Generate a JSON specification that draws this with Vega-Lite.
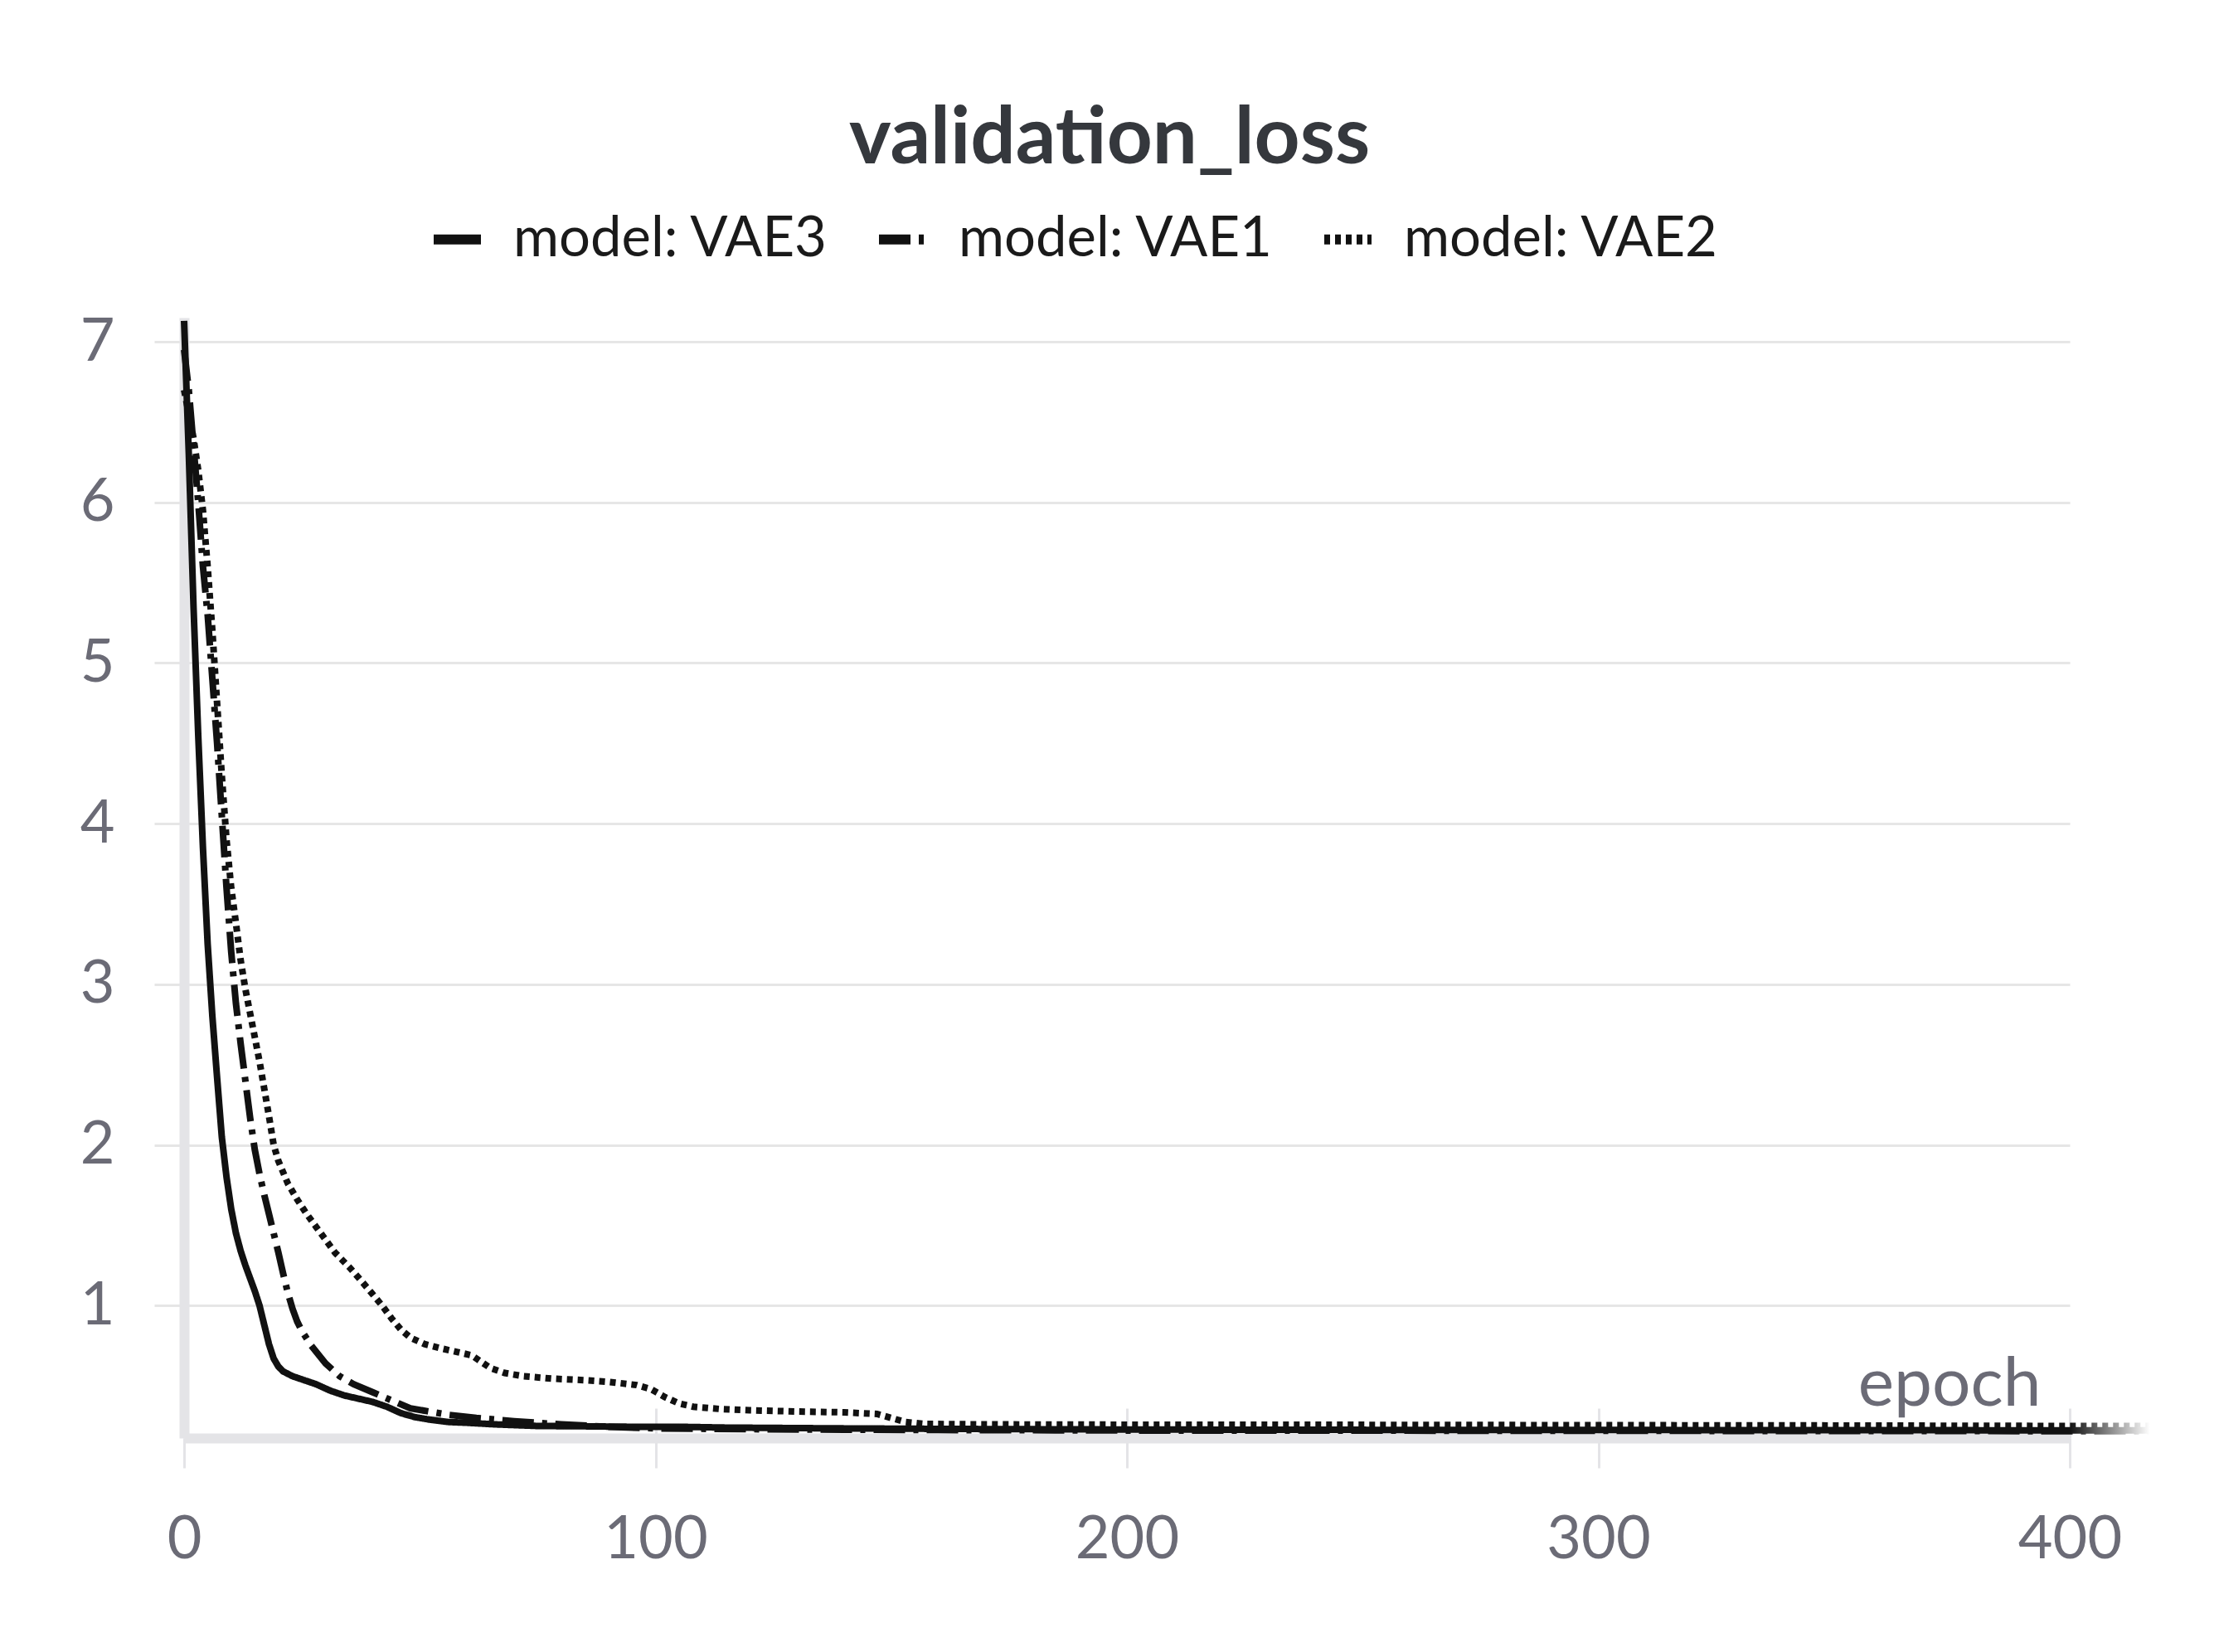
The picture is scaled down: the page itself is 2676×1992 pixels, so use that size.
{
  "$schema": "https://vega.github.io/schema/vega-lite/v6.json",
  "width": 2274,
  "height": 1351,
  "autosize": {"type": "none"},
  "padding": {"left": 222, "top": 383, "right": 180, "bottom": 258},
  "background": "#ffffff",
  "title": {
    "text": "validation_loss",
    "fontSize": 96,
    "fontWeight": "bold",
    "font": "Lato",
    "color": "#35383d",
    "anchor": "middle",
    "frame": "group",
    "baseline": "alphabetic",
    "offset": -39,
    "dx": -21
  },
  "config": {
    "view": {"stroke": null},
    "font": "Lato",
    "legend": {
      "orient": "none",
      "legendX": 295,
      "legendY": -129,
      "direction": "horizontal",
      "padding": 0,
      "title": null,
      "symbolType": "stroke",
      "symbolSize": 3249,
      "symbolStrokeWidth": 12,
      "symbolStrokeColor": "#111111",
      "labelFont": "Lato",
      "labelFontSize": 67,
      "labelColor": "#1a1a1a",
      "labelOffset": 33,
      "columnPadding": 36,
      "labelLimit": 0
    }
  },
  "data": {
    "values": [
      {"model": "VAE3", "epoch": 0, "loss": 7.13},
      {"model": "VAE3", "epoch": 1, "loss": 6.3},
      {"model": "VAE3", "epoch": 2, "loss": 5.35},
      {"model": "VAE3", "epoch": 3, "loss": 4.55},
      {"model": "VAE3", "epoch": 4, "loss": 3.85},
      {"model": "VAE3", "epoch": 5, "loss": 3.25},
      {"model": "VAE3", "epoch": 6, "loss": 2.8},
      {"model": "VAE3", "epoch": 7, "loss": 2.42},
      {"model": "VAE3", "epoch": 8, "loss": 2.05},
      {"model": "VAE3", "epoch": 9, "loss": 1.8},
      {"model": "VAE3", "epoch": 10, "loss": 1.6},
      {"model": "VAE3", "epoch": 11, "loss": 1.45},
      {"model": "VAE3", "epoch": 12, "loss": 1.34},
      {"model": "VAE3", "epoch": 13, "loss": 1.25},
      {"model": "VAE3", "epoch": 14, "loss": 1.17},
      {"model": "VAE3", "epoch": 15, "loss": 1.09},
      {"model": "VAE3", "epoch": 16, "loss": 1.0},
      {"model": "VAE3", "epoch": 17, "loss": 0.88},
      {"model": "VAE3", "epoch": 18, "loss": 0.76},
      {"model": "VAE3", "epoch": 19, "loss": 0.67},
      {"model": "VAE3", "epoch": 20, "loss": 0.62},
      {"model": "VAE3", "epoch": 21, "loss": 0.59},
      {"model": "VAE3", "epoch": 23, "loss": 0.56},
      {"model": "VAE3", "epoch": 25, "loss": 0.54},
      {"model": "VAE3", "epoch": 28, "loss": 0.51},
      {"model": "VAE3", "epoch": 31, "loss": 0.47},
      {"model": "VAE3", "epoch": 34, "loss": 0.44},
      {"model": "VAE3", "epoch": 37, "loss": 0.42},
      {"model": "VAE3", "epoch": 40, "loss": 0.4},
      {"model": "VAE3", "epoch": 43, "loss": 0.37},
      {"model": "VAE3", "epoch": 46, "loss": 0.33},
      {"model": "VAE3", "epoch": 49, "loss": 0.305},
      {"model": "VAE3", "epoch": 52, "loss": 0.29},
      {"model": "VAE3", "epoch": 56, "loss": 0.275},
      {"model": "VAE3", "epoch": 60, "loss": 0.27},
      {"model": "VAE3", "epoch": 66, "loss": 0.26},
      {"model": "VAE3", "epoch": 75, "loss": 0.25},
      {"model": "VAE3", "epoch": 85, "loss": 0.248},
      {"model": "VAE3", "epoch": 95, "loss": 0.245},
      {"model": "VAE3", "epoch": 105, "loss": 0.245},
      {"model": "VAE3", "epoch": 115, "loss": 0.24},
      {"model": "VAE3", "epoch": 125, "loss": 0.238},
      {"model": "VAE3", "epoch": 140, "loss": 0.235},
      {"model": "VAE3", "epoch": 160, "loss": 0.232},
      {"model": "VAE3", "epoch": 180, "loss": 0.23},
      {"model": "VAE3", "epoch": 200, "loss": 0.228},
      {"model": "VAE3", "epoch": 250, "loss": 0.226},
      {"model": "VAE3", "epoch": 300, "loss": 0.225},
      {"model": "VAE3", "epoch": 350, "loss": 0.224},
      {"model": "VAE3", "epoch": 400, "loss": 0.223},
      {"model": "VAE3", "epoch": 417, "loss": 0.223},
      {"model": "VAE1", "epoch": 0, "loss": 6.95},
      {"model": "VAE1", "epoch": 1, "loss": 6.7},
      {"model": "VAE1", "epoch": 2, "loss": 6.35},
      {"model": "VAE1", "epoch": 3, "loss": 6.0},
      {"model": "VAE1", "epoch": 4, "loss": 5.6},
      {"model": "VAE1", "epoch": 5, "loss": 5.3},
      {"model": "VAE1", "epoch": 6, "loss": 4.9},
      {"model": "VAE1", "epoch": 7, "loss": 4.5},
      {"model": "VAE1", "epoch": 8, "loss": 4.05},
      {"model": "VAE1", "epoch": 9, "loss": 3.6},
      {"model": "VAE1", "epoch": 10, "loss": 3.2},
      {"model": "VAE1", "epoch": 11, "loss": 2.88},
      {"model": "VAE1", "epoch": 12, "loss": 2.63},
      {"model": "VAE1", "epoch": 13, "loss": 2.4},
      {"model": "VAE1", "epoch": 14, "loss": 2.17},
      {"model": "VAE1", "epoch": 15, "loss": 1.97},
      {"model": "VAE1", "epoch": 16, "loss": 1.82},
      {"model": "VAE1", "epoch": 17, "loss": 1.69},
      {"model": "VAE1", "epoch": 18, "loss": 1.57},
      {"model": "VAE1", "epoch": 19, "loss": 1.45},
      {"model": "VAE1", "epoch": 20, "loss": 1.33},
      {"model": "VAE1", "epoch": 21, "loss": 1.2},
      {"model": "VAE1", "epoch": 22, "loss": 1.08},
      {"model": "VAE1", "epoch": 23, "loss": 0.98},
      {"model": "VAE1", "epoch": 24, "loss": 0.9},
      {"model": "VAE1", "epoch": 25, "loss": 0.84},
      {"model": "VAE1", "epoch": 27, "loss": 0.75},
      {"model": "VAE1", "epoch": 30, "loss": 0.64},
      {"model": "VAE1", "epoch": 33, "loss": 0.56},
      {"model": "VAE1", "epoch": 36, "loss": 0.51},
      {"model": "VAE1", "epoch": 40, "loss": 0.46},
      {"model": "VAE1", "epoch": 44, "loss": 0.41},
      {"model": "VAE1", "epoch": 48, "loss": 0.36},
      {"model": "VAE1", "epoch": 52, "loss": 0.34},
      {"model": "VAE1", "epoch": 56, "loss": 0.32},
      {"model": "VAE1", "epoch": 62, "loss": 0.3},
      {"model": "VAE1", "epoch": 70, "loss": 0.28},
      {"model": "VAE1", "epoch": 80, "loss": 0.26},
      {"model": "VAE1", "epoch": 90, "loss": 0.245},
      {"model": "VAE1", "epoch": 100, "loss": 0.235},
      {"model": "VAE1", "epoch": 120, "loss": 0.23},
      {"model": "VAE1", "epoch": 140, "loss": 0.227},
      {"model": "VAE1", "epoch": 160, "loss": 0.225},
      {"model": "VAE1", "epoch": 200, "loss": 0.222},
      {"model": "VAE1", "epoch": 300, "loss": 0.22},
      {"model": "VAE1", "epoch": 400, "loss": 0.218},
      {"model": "VAE1", "epoch": 417, "loss": 0.218},
      {"model": "VAE2", "epoch": 0, "loss": 6.7},
      {"model": "VAE2", "epoch": 1, "loss": 6.55},
      {"model": "VAE2", "epoch": 2, "loss": 6.4},
      {"model": "VAE2", "epoch": 3, "loss": 6.2},
      {"model": "VAE2", "epoch": 4, "loss": 5.95},
      {"model": "VAE2", "epoch": 5, "loss": 5.6},
      {"model": "VAE2", "epoch": 6, "loss": 5.2},
      {"model": "VAE2", "epoch": 7, "loss": 4.75},
      {"model": "VAE2", "epoch": 8, "loss": 4.3},
      {"model": "VAE2", "epoch": 9, "loss": 3.9},
      {"model": "VAE2", "epoch": 10, "loss": 3.6},
      {"model": "VAE2", "epoch": 11, "loss": 3.38},
      {"model": "VAE2", "epoch": 12, "loss": 3.15},
      {"model": "VAE2", "epoch": 13, "loss": 2.97},
      {"model": "VAE2", "epoch": 14, "loss": 2.82},
      {"model": "VAE2", "epoch": 15, "loss": 2.67},
      {"model": "VAE2", "epoch": 16, "loss": 2.52},
      {"model": "VAE2", "epoch": 17, "loss": 2.35},
      {"model": "VAE2", "epoch": 18, "loss": 2.18},
      {"model": "VAE2", "epoch": 19, "loss": 2.0},
      {"model": "VAE2", "epoch": 20, "loss": 1.9},
      {"model": "VAE2", "epoch": 22, "loss": 1.76},
      {"model": "VAE2", "epoch": 24, "loss": 1.66},
      {"model": "VAE2", "epoch": 26, "loss": 1.57},
      {"model": "VAE2", "epoch": 28, "loss": 1.49},
      {"model": "VAE2", "epoch": 30, "loss": 1.41},
      {"model": "VAE2", "epoch": 32, "loss": 1.33},
      {"model": "VAE2", "epoch": 35, "loss": 1.24},
      {"model": "VAE2", "epoch": 38, "loss": 1.14},
      {"model": "VAE2", "epoch": 40, "loss": 1.07},
      {"model": "VAE2", "epoch": 42, "loss": 1.0},
      {"model": "VAE2", "epoch": 44, "loss": 0.92},
      {"model": "VAE2", "epoch": 46, "loss": 0.85},
      {"model": "VAE2", "epoch": 48, "loss": 0.8},
      {"model": "VAE2", "epoch": 51, "loss": 0.76},
      {"model": "VAE2", "epoch": 55, "loss": 0.73},
      {"model": "VAE2", "epoch": 58, "loss": 0.71},
      {"model": "VAE2", "epoch": 61, "loss": 0.69},
      {"model": "VAE2", "epoch": 63, "loss": 0.65},
      {"model": "VAE2", "epoch": 65, "loss": 0.61},
      {"model": "VAE2", "epoch": 68, "loss": 0.58},
      {"model": "VAE2", "epoch": 72, "loss": 0.56},
      {"model": "VAE2", "epoch": 78, "loss": 0.545},
      {"model": "VAE2", "epoch": 85, "loss": 0.535},
      {"model": "VAE2", "epoch": 90, "loss": 0.525},
      {"model": "VAE2", "epoch": 96, "loss": 0.505},
      {"model": "VAE2", "epoch": 99, "loss": 0.48},
      {"model": "VAE2", "epoch": 102, "loss": 0.43},
      {"model": "VAE2", "epoch": 105, "loss": 0.39},
      {"model": "VAE2", "epoch": 108, "loss": 0.37},
      {"model": "VAE2", "epoch": 114, "loss": 0.355},
      {"model": "VAE2", "epoch": 120, "loss": 0.348},
      {"model": "VAE2", "epoch": 130, "loss": 0.34},
      {"model": "VAE2", "epoch": 140, "loss": 0.335},
      {"model": "VAE2", "epoch": 147, "loss": 0.325},
      {"model": "VAE2", "epoch": 150, "loss": 0.3},
      {"model": "VAE2", "epoch": 153, "loss": 0.275},
      {"model": "VAE2", "epoch": 157, "loss": 0.263},
      {"model": "VAE2", "epoch": 170, "loss": 0.26},
      {"model": "VAE2", "epoch": 200, "loss": 0.258},
      {"model": "VAE2", "epoch": 250, "loss": 0.257},
      {"model": "VAE2", "epoch": 300, "loss": 0.255},
      {"model": "VAE2", "epoch": 350, "loss": 0.253},
      {"model": "VAE2", "epoch": 400, "loss": 0.25},
      {"model": "VAE2", "epoch": 417, "loss": 0.25}
    ]
  },
  "mark": {
    "type": "line",
    "strokeWidth": 8,
    "clip": false,
    "color": {
      "gradient": "linear",
      "x1": 0, "y1": 0, "x2": 1, "y2": 0,
      "stops": [
        {"offset": 0, "color": "#111111"},
        {"offset": 0.959, "color": "#111111"},
        {"offset": 1, "color": "#ffffff"}
      ]
    }
  },
  "encoding": {
    "x": {
      "field": "epoch",
      "type": "quantitative",
      "scale": {"domain": [0, 400], "nice": false, "zero": false},
      "axis": {
        "values": [0, 100, 200, 300, 400],
        "title": "epoch",
        "titleFont": "Lato",
        "titleFontSize": 82,
        "titleFontWeight": "normal",
        "titleColor": "#6b6b76",
        "titleAlign": "right",
        "titleAnchor": null,
        "titleBaseline": "alphabetic",
        "titleX": 2239,
        "titleY": -40,
        "labelFont": "Lato",
        "labelFontSize": 72,
        "labelColor": "#6b6b76",
        "labelPadding": 51,
        "labelFlush": false,
        "domain": true,
        "domainColor": "#e4e4e7",
        "domainWidth": 12,
        "ticks": true,
        "tickSize": 36,
        "tickWidth": 3,
        "tickColor": "#e4e4e7",
        "grid": true,
        "gridColor": "#e4e4e7",
        "gridWidth": 3,
        "gridDash": [36, 1315],
        "gridDashOffset": 36
      }
    },
    "y": {
      "field": "loss",
      "type": "quantitative",
      "scale": {"domain": [0.175, 7.15], "nice": false, "zero": false},
      "axis": {
        "values": [1, 2, 3, 4, 5, 6, 7],
        "title": null,
        "labelFont": "Lato",
        "labelFontSize": 72,
        "labelColor": "#6b6b76",
        "labelPadding": 48,
        "domain": true,
        "domainColor": "#e4e4e7",
        "domainWidth": 12,
        "ticks": true,
        "tickSize": 36,
        "tickWidth": 3,
        "tickColor": "#e6e6e6",
        "grid": true,
        "gridColor": "#e6e6e6",
        "gridWidth": 3
      }
    },
    "strokeDash": {
      "field": "model",
      "type": "nominal",
      "scale": {
        "domain": ["VAE3", "VAE1", "VAE2"],
        "range": [[1, 0], [38, 10, 6, 10], [7, 6]]
      },
      "legend": {
        "labelExpr": "'model: ' + datum.label"
      }
    }
  }
}
